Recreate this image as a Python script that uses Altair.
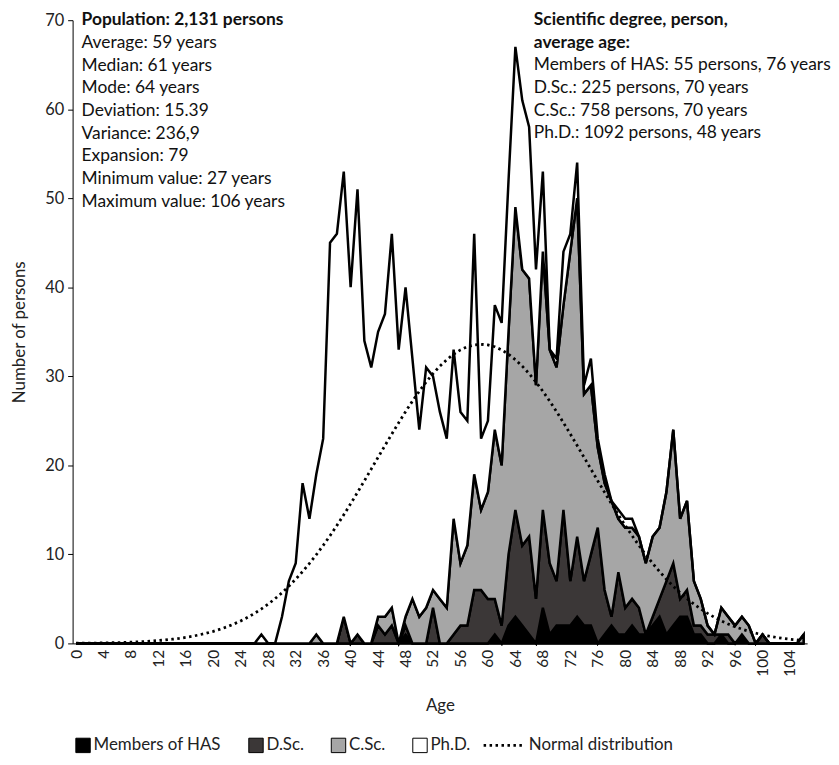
import altair as alt
import pandas as pd

ages = list(range(107))
series_names = ["Members of HAS", "D.Sc.", "C.Sc.", "Ph.D."]
series_colors = ["#000000", "#3b3737", "#a6a6a6", "#ffffff"]

has = [
    0, 0, 0, 0, 0, 0, 0, 0, 0, 0,
    0, 0, 0, 0, 0, 0, 0, 0, 0, 0,
    0, 0, 0, 0, 0, 0, 0, 0, 0, 0,
    0, 0, 0, 0, 0, 0, 0, 0, 0, 0,
    0, 0, 0, 0, 0, 0, 0, 0, 1, 0,
    0, 0, 0, 0, 0, 0, 0, 0, 0, 0,
    0, 1, 0, 2, 3, 2, 1, 0, 4, 1,
    2, 2, 2, 3, 2, 2, 0, 1, 2, 1,
    1, 2, 1, 1, 2, 3, 1, 2, 3, 3,
    1, 1, 0, 0, 1, 0, 0, 1, 0, 0,
    0, 0, 0, 0, 0, 0, 0,
]
dsc = [
    0, 0, 0, 0, 0, 0, 0, 0, 0, 0,
    0, 0, 0, 0, 0, 0, 0, 0, 0, 0,
    0, 0, 0, 0, 0, 0, 0, 0, 0, 0,
    0, 0, 0, 0, 0, 0, 0, 0, 0, 3,
    0, 1, 0, 0, 2, 1, 2, 0, 1, 0,
    0, 0, 4, 0, 0, 1, 2, 2, 6, 6,
    5, 4, 2, 8, 12, 9, 11, 5, 11, 8,
    5, 13, 5, 9, 5, 8, 13, 5, 1, 7,
    3, 3, 3, 0, 1, 2, 6, 7, 2, 3,
    1, 1, 1, 1, 0, 1, 0, 0, 0, 0,
    1, 0, 0, 0, 0, 0, 0,
]
csc = [
    0, 0, 0, 0, 0, 0, 0, 0, 0, 0,
    0, 0, 0, 0, 0, 0, 0, 0, 0, 0,
    0, 0, 0, 0, 0, 0, 0, 0, 0, 0,
    0, 0, 0, 0, 0, 1, 0, 0, 0, 0,
    0, 0, 0, 0, 1, 2, 2, 0, 1, 5,
    3, 4, 2, 5, 4, 13, 7, 9, 13, 9,
    12, 19, 18, 25, 34, 31, 29, 24, 29, 24,
    24, 23, 37, 38, 21, 19, 9, 12, 13, 6,
    9, 8, 8, 8, 9, 8, 10, 15, 9, 10,
    5, 3, 1, 0, 3, 2, 2, 2, 2, 0,
    0, 0, 0, 0, 0, 0, 1,
]
phd = [
    0, 0, 0, 0, 0, 0, 0, 0, 0, 0,
    0, 0, 0, 0, 0, 0, 0, 0, 0, 0,
    0, 0, 0, 0, 0, 0, 0, 1, 0, 0,
    3, 7, 9, 18, 14, 18, 23, 45, 46, 50,
    40, 50, 34, 31, 32, 34, 42, 33, 37, 27,
    21, 27, 24, 21, 19, 19, 17, 14, 27, 8,
    8, 14, 16, 17, 18, 19, 17, 13, 9, 0,
    1, 6, 2, 4, 1, 3, 1, 1, 0, 1,
    1, 1, 0, 0, 0, 0, 0, 0, 0, 0,
    0, 0, 0, 0, 0, 0, 0, 0, 0, 0,
    0, 0, 0, 0, 0, 0, 0,
]
normal = [
    0.02, 0.03, 0.04, 0.04, 0.06, 0.07, 0.09, 0.11, 0.14, 0.17,
    0.21, 0.26, 0.32, 0.39, 0.47, 0.56, 0.68, 0.81, 0.97, 1.15,
    1.36, 1.60, 1.87, 2.18, 2.53, 2.93, 3.37, 3.87, 4.42, 5.03,
    5.69, 6.42, 7.21, 8.07, 8.98, 9.96, 11.00, 12.10, 13.25, 14.44,
    15.68, 16.96, 18.26, 19.58, 20.90, 22.22, 23.52, 24.79, 26.03, 27.21,
    28.32, 29.36, 30.30, 31.14, 31.87, 32.48, 32.97, 33.32, 33.53, 33.60,
    33.53, 33.32, 32.97, 32.48, 31.87, 31.14, 30.30, 29.36, 28.32, 27.21,
    26.03, 24.79, 23.52, 22.22, 20.90, 19.58, 18.26, 16.96, 15.68, 14.44,
    13.25, 12.10, 11.00, 9.96, 8.98, 8.07, 7.21, 6.42, 5.69, 5.03,
    4.42, 3.87, 3.37, 2.93, 2.53, 2.18, 1.87, 1.60, 1.36, 1.15,
    0.97, 0.81, 0.68, 0.56, 0.47, 0.39, 0.32,
]
x_tick_values = list(range(0, 105, 4))
y_tick_values = [0, 10, 20, 30, 40, 50, 60, 70]

left_title = "Population: 2,131 persons"
left_lines = [
    "Average: 59 years",
    "Median: 61 years",
    "Mode: 64 years",
    "Deviation: 15.39",
    "Variance: 236,9",
    "Expansion: 79",
    "Minimum value: 27 years",
    "Maximum value: 106 years",
]
right_title = ["Scientific degree, person,", "average age:"]
right_lines = [
    "Members of HAS: 55 persons, 76 years",
    "D.Sc.: 225 persons, 70 years",
    "C.Sc.: 758 persons, 70 years",
    "Ph.D.: 1092 persons, 48 years",
]

FONT = "Lato"
W, H = 739, 627

rows = []
for k, (name, vals) in enumerate(zip(series_names, [has, dsc, csc, phd])):
    for a, v in zip(ages, vals):
        rows.append({"age": a, "series": name, "value": v, "order": k})
df = pd.DataFrame(rows)
df_norm = pd.DataFrame({"age": ages, "value": normal, "curve": "Normal distribution"})

xscale = alt.Scale(domain=[-0.5, 106.5], nice=False, zero=False)
yscale = alt.Scale(domain=[0, 70], nice=False)

x_axis = alt.Axis(
    values=x_tick_values, labelAngle=-90, ticks=False, labelPadding=6,
    labelOverlap=False, labelFlush=False,
    labelFontSize=15.5, title="Age", titleFontSize=17, titleFontWeight="normal",
    titleY=62, titleBaseline="middle", grid=False, domainColor="black",
    domainWidth=1, labelColor="#222", titleColor="#222")
y_axis = alt.Axis(
    values=y_tick_values, tickSize=5, tickColor="black", labelFontSize=16.5,
    labelPadding=4, title="Number of persons", titleFontSize=17,
    titleFontWeight="normal", titleX=-53, titleY=H / 2, titleAngle=-90,
    titleAlign="center", titleBaseline="middle", grid=False,
    domainColor="black", domainWidth=1, labelColor="#222", titleColor="#222")

areas = alt.Chart(df).mark_area(
    stroke="black", strokeWidth=2.5, strokeJoin="miter", interpolate="linear"
).encode(
    x=alt.X("age:Q", scale=xscale, axis=x_axis),
    y=alt.Y("value:Q", stack="zero", scale=yscale, axis=y_axis),
    fill=alt.Fill("series:N", scale=alt.Scale(domain=series_names, range=series_colors),
                  legend=alt.Legend(title=None, orient="none", direction="horizontal",
                                    legendX=2, legendY=721, symbolType="square",
                                    symbolSize=210, symbolStrokeColor="black",
                                    symbolStrokeWidth=1, labelFontSize=17,
                                    labelOffset=2, columnPadding=25, labelColor="#222")),
    order=alt.Order("order:Q", sort="ascending"),
)

norm_line = alt.Chart(df_norm).mark_line(color="black", strokeWidth=2.8).encode(
    x=alt.X("age:Q", scale=xscale, axis=x_axis),
    y=alt.Y("value:Q", scale=yscale, axis=y_axis),
    strokeDash=alt.StrokeDash("curve:N", scale=alt.Scale(domain=["Normal distribution"], range=[[2.5, 3.5]]),
                              legend=alt.Legend(title=None, orient="none", legendX=412, legendY=708,
                                                symbolType="stroke", symbolSize=1600,
                                                symbolStrokeWidth=2.8, symbolStrokeColor="black",
                                                labelFontSize=17, labelOffset=4, labelColor="#222")),
)

def text_layer(lines, x, y, bold):
    return alt.Chart(pd.DataFrame({"t": ["\n".join(lines)]})).mark_text(
        align="left", baseline="middle", font=FONT, fontSize=17.5,
        fontWeight="bold" if bold else "normal", lineBreak="\n", lineHeight=22.8,
        color="#111",
    ).encode(x=alt.value(x), y=alt.value(y), text="t:N")

texts = [
    text_layer([left_title], 9, 0, True),
    text_layer(left_lines, 9, 23, False),
    text_layer(right_title, 464, 0, True),
    text_layer(right_lines, 464, 45.6, False),
]

chart = alt.layer(areas, norm_line, *texts).properties(
    width=W, height=H,
    autosize=alt.AutoSizeParams(type="none"),
    padding={"left": 65, "top": 10, "right": 24, "bottom": 110},
).configure(font=FONT).configure_view(stroke=None).configure_axisX(labelOverlap=False)

chart.save("out.html", embed_options={"renderer": "svg", "actions": False})
